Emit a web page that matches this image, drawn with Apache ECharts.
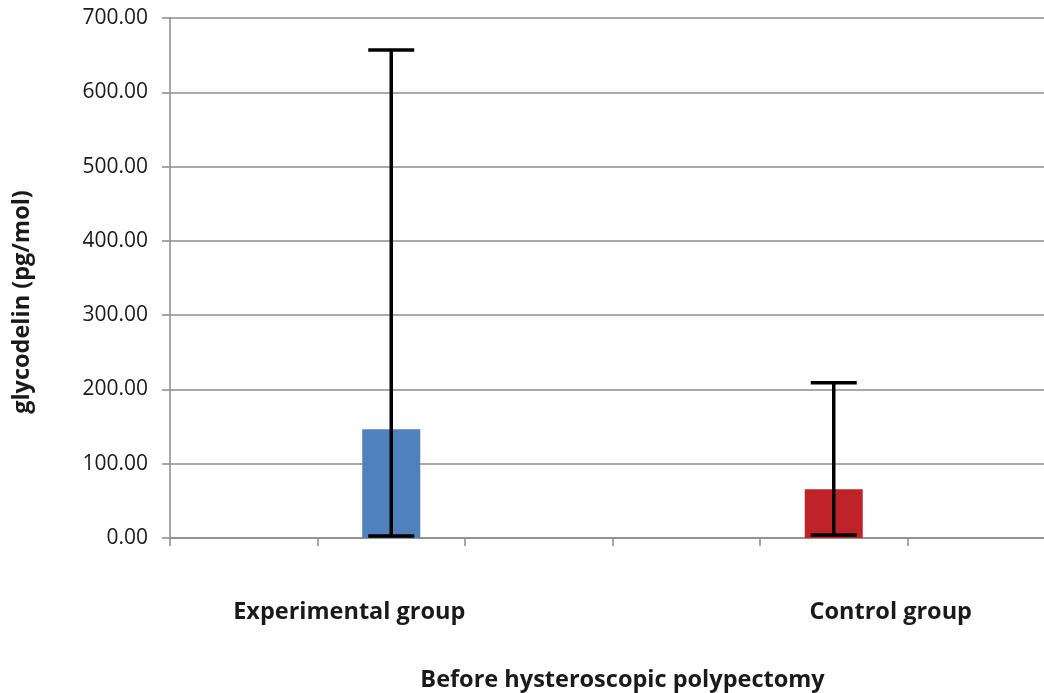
<!DOCTYPE html>
<html>
<head>
<meta charset="utf-8">
<script src="https://cdn.jsdelivr.net/npm/echarts@6/dist/echarts.min.js"></script>
<style>html,body{margin:0;padding:0;background:#fff}#c{width:1044px;height:693px}</style>
</head>
<body>
<div id="c"></div>
<script>
var categories = ['', 'Experimental group', '', '', 'Control group', ''];
var means = [null, 146.5, null, null, 65.5, null];
var errLow = [null, 2.7, null, null, 4, null];
var errHigh = [null, 657, null, null, 209, null];
var yTicks = [0, 100, 200, 300, 400, 500, 600, 700];
var barColors = ['#4F81BD', '#4F81BD', '#4F81BD', '#C0222A', '#C0222A', '#C0222A'];

var errData = [];
for (var i = 0; i < categories.length; i++) {
  if (errLow[i] != null) errData.push([i, errLow[i], errHigh[i]]);
}
var barData = means.map(function (v) { return v == null ? '-' : v; });

var FONT = 'Open Sans';
var chart = echarts.init(document.getElementById('c'));
chart.setOption({
  animation: false,
  backgroundColor: '#fff',
  grid: { left: 170, top: 18, bottom: 155, width: 885, outerBoundsMode: 'none', containLabel: false },
  xAxis: {
    type: 'category',
    data: categories,
    boundaryGap: true,
    axisLine: { lineStyle: { color: '#8c8c8c', width: 1.5 } },
    axisTick: { show: true, length: 8, interval: 0, lineStyle: { color: '#8c8c8c', width: 1.5 } },
    axisLabel: {
      interval: 0,
      margin: 62,
      formatter: function (v) {
        if (v === 'Experimental group') return '{a|' + v + '}';
        if (v === 'Control group') return '{b|' + v + '}';
        return '';
      },
      rich: {
        a: { fontFamily: FONT, fontWeight: 'bold', fontSize: 23.5, color: '#1a1a1a', padding: [0, 84, 0, 0] },
        b: { fontFamily: FONT, fontWeight: 'bold', fontSize: 23.5, color: '#1a1a1a', padding: [0, 0, 0, 114] }
      }
    },
    name: 'Before hysteroscopic polypectomy',
    nameLocation: 'middle',
    nameGap: 130,
    nameTextStyle: { fontFamily: FONT, fontWeight: 'bold', fontSize: 23.5, color: '#1a1a1a', padding: [0, 0, 0, 20] }
  },
  yAxis: {
    type: 'value',
    min: yTicks[0],
    max: yTicks[yTicks.length - 1],
    interval: yTicks[1] - yTicks[0],
    axisLine: { show: true, lineStyle: { color: '#8c8c8c', width: 1.5 } },
    axisTick: { show: true, length: 8, lineStyle: { color: '#8c8c8c', width: 1.5 } },
    splitLine: { lineStyle: { color: '#8c8c8c', width: 1.5 } },
    axisLabel: {
      margin: 22,
      fontFamily: FONT, fontSize: 21, color: '#1a1a1a',
      formatter: function (v) { return v.toFixed(2); }
    },
    name: 'glycodelin (pg/mol)',
    nameLocation: 'middle',
    nameRotate: 90,
    nameGap: 136,
    nameTextStyle: { fontFamily: FONT, fontWeight: 'bold', fontSize: 23.5, color: '#1a1a1a', padding: [0, 48, 0, 0] }
  },
  series: [
    {
      type: 'bar',
      data: barData,
      barWidth: 58,
      itemStyle: { color: function (p) { return barColors[p.dataIndex]; } }
    },
    {
      type: 'custom',
      data: errData,
      z: 10,
      renderItem: function (params, api) {
        var x = api.value(0);
        var lo = api.coord([x, api.value(1)]);
        var hi = api.coord([x, api.value(2)]);
        var hw = 23;
        var st = { stroke: '#000', lineWidth: 3.5 };
        return {
          type: 'group',
          children: [
            { type: 'line', shape: { x1: lo[0], y1: lo[1], x2: hi[0], y2: hi[1] }, style: st },
            { type: 'line', shape: { x1: lo[0] - hw, y1: lo[1], x2: lo[0] + hw, y2: lo[1] }, style: st },
            { type: 'line', shape: { x1: hi[0] - hw, y1: hi[1], x2: hi[0] + hw, y2: hi[1] }, style: st }
          ]
        };
      }
    }
  ]
});
</script>
</body>
</html>
